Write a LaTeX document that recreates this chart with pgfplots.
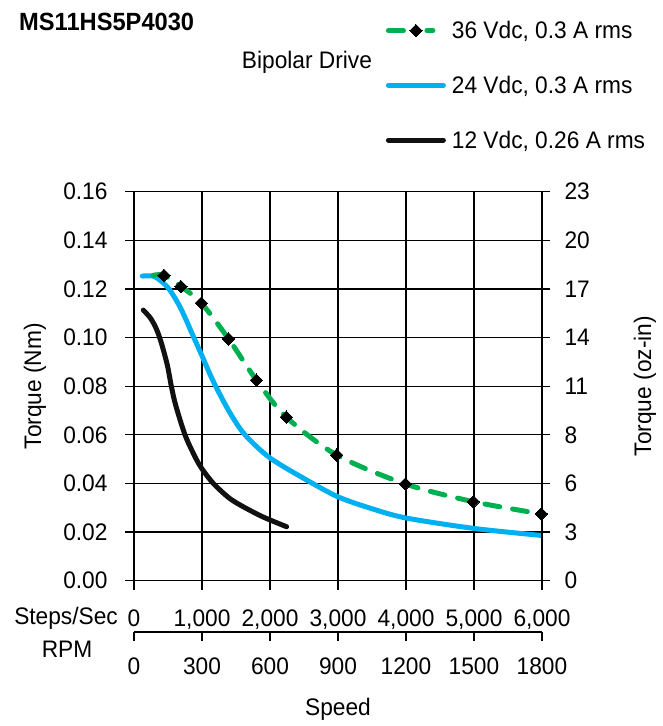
\documentclass[border=0pt]{standalone}
\usepackage{fontspec}
\setmainfont{Liberation Sans}[FakeStretch=0.95]
\usepackage{pgfplots}
\pgfplotsset{compat=1.18}
\definecolor{cgreen}{RGB}{0,176,80}
\definecolor{cblue}{RGB}{0,176,240}
\definecolor{cblack}{RGB}{17,17,17}
\newcommand{\fs}{\fontsize{24}{28}\selectfont}
\pgfplotsset{
  lineleg/.style={legend image code/.code={\draw[##1] (2.5bp,0bp) -- (57.5bp,0bp);}},
  greenleg/.style={legend image code/.code={
    \draw[cgreen, line width=5bp, line cap=round] (2.5bp,0bp) -- (19bp,0bp) (41bp,0bp) -- (47bp,0bp);
    \draw[##1, draw=none, mark indices={2}] plot coordinates {(0bp,0bp) (30bp,0bp) (47bp,0bp)};}},
}
\begin{document}
\begin{tikzpicture}
\path[use as bounding box] (0bp,0bp) rectangle (663bp,-726bp);
\begin{axis}[
  at={(134bp,-580.7bp)}, anchor=south west, scale only axis,
  width=408bp, height=389bp,
  xmin=0, xmax=6000, ymin=0, ymax=0.16,
  xtick={0,1000,2000,3000,4000,5000,6000},
  ytick={0,0.02,0.04,0.06,0.08,0.10,0.12,0.14,0.16},
  axis lines*=left,
  grid=major, major grid style={black, line width=1.3bp},
  axis line style={black, line width=1.3bp},
  tick align=outside, major tick length=9bp,
  tick style={black, line width=1.3bp},
  /pgf/number format/assume math mode=true,
  tick label style={font=\fs},
  yticklabel style={/pgf/number format/fixed, /pgf/number format/fixed zerofill, /pgf/number format/precision=2, xshift=-14bp},
  xticklabel style={/pgf/number format/1000 sep={,}, yshift=-17bp},
  scaled y ticks=false,
  ylabel={Torque (Nm)},
  every axis y label/.style={at={(axis description cs:-0.243,0.5)}, rotate=90, anchor=center, font=\fs},
  xlabel={Speed},
  every axis x label/.style={at={(axis description cs:0.5,-0.331)}, anchor=center, font=\fs},
  reverse legend,
  legend cell align=left,
  legend style={at={(rel axis cs:0.617,1.444)}, anchor=north west, draw=none, fill=none, font=\fs, row sep=32bp, column sep=4bp, inner sep=0pt},
]
\addplot[cblack, line width=5bp, line cap=round, smooth, lineleg] coordinates {
(137,0.1113) (245,0.1079) (330,0.1035) (400,0.0980) (490,0.0887) (549,0.0800)
(613,0.0722) (750,0.0600) (897,0.0510) (1000,0.0460) (1167,0.0400) (1400,0.0340)
(1608,0.0304) (1900,0.0262) (2245,0.0222)};
\addlegendentry{12 Vdc, 0.26 A rms}
\addplot[cblue, line width=5bp, line cap=round, smooth, lineleg] coordinates {
(122,0.1253) (280,0.1253) (400,0.1232) (515,0.1200) (640,0.1145) (735,0.1092)
(880,0.1000) (1000,0.0925) (1100,0.0860) (1210,0.0795) (1412,0.0690) (1632,0.0600)
(2000,0.0505) (2540,0.0414) (3000,0.0345) (3500,0.0296) (4000,0.0258) (5000,0.0215) (6000,0.0186)};
\addlegendentry{24 Vdc, 0.3 A rms}
\addplot[cgreen, line width=5bp, line cap=round, dash pattern=on 15bp off 13bp, smooth,
  mark=square*, mark size=4.4bp, mark indices={2,3,...,11},
  mark options={rotate=45, solid, fill=black, draw=black, line width=0pt},
  greenleg] coordinates {
(280,0.1256) (440,0.1256) (690,0.1210) (990,0.1142) (1390,0.0995) (1800,0.0825)
(2240,0.0673) (2980,0.0517) (3990,0.0398) (4990,0.0325) (5990,0.0275)};
\addlegendentry{36 Vdc, 0.3 A rms}
\end{axis}
% right axis (oz-in)
\begin{axis}[
  at={(134bp,-580.7bp)}, anchor=south west, scale only axis,
  width=408bp, height=389bp,
  xmin=0, xmax=6000, ymin=0, ymax=0.16,
  axis y line*=right, axis x line=none,
  ytick={0,0.02,0.04,0.06,0.08,0.10,0.12,0.14,0.16},
  yticklabels={0,3,6,8,11,14,17,20,23},
  axis line style={black, line width=1.3bp},
  tick align=outside, major tick length=8bp,
  tick style={black, line width=1.3bp},
  tick label style={font=\fs},
  yticklabel style={xshift=11bp},
  ylabel={Torque (oz-in)},
  every axis y label/.style={at={(axis description cs:1.2525,0.5)}, rotate=90, anchor=center, font=\fs},
]
\end{axis}
% RPM axis
\begin{axis}[
  at={(134bp,-632bp)}, anchor=south west, scale only axis,
  width=408bp, height=20bp,
  xmin=0, xmax=1800, ymin=0, ymax=1,
  axis x line*=bottom, axis y line=none,
  xtick={0,300,600,900,1200,1500,1800},
  axis line style={black, line width=2bp},
  tick align=outside, major tick length=9bp,
  tick style={black, line width=2bp},
  /pgf/number format/assume math mode=true,
  xticklabel style={font=\fs, /pgf/number format/1000 sep={}, yshift=-13bp},
]
\end{axis}
\node[anchor=east, inner sep=0pt, font=\fs] at (118bp,-618bp) {Steps/Sec};
\node[anchor=center, inner sep=0pt, font=\fs] at (67bp,-649bp) {RPM};
\node[anchor=center, inner sep=0pt, font=\fs] at (307bp,-62bp) {Bipolar Drive};
\node[anchor=west, inner sep=0pt, font=\fontsize{25}{30}\selectfont\bfseries] at (19bp,-22bp) {MS11HS5P4030};
\end{tikzpicture}
\end{document}
